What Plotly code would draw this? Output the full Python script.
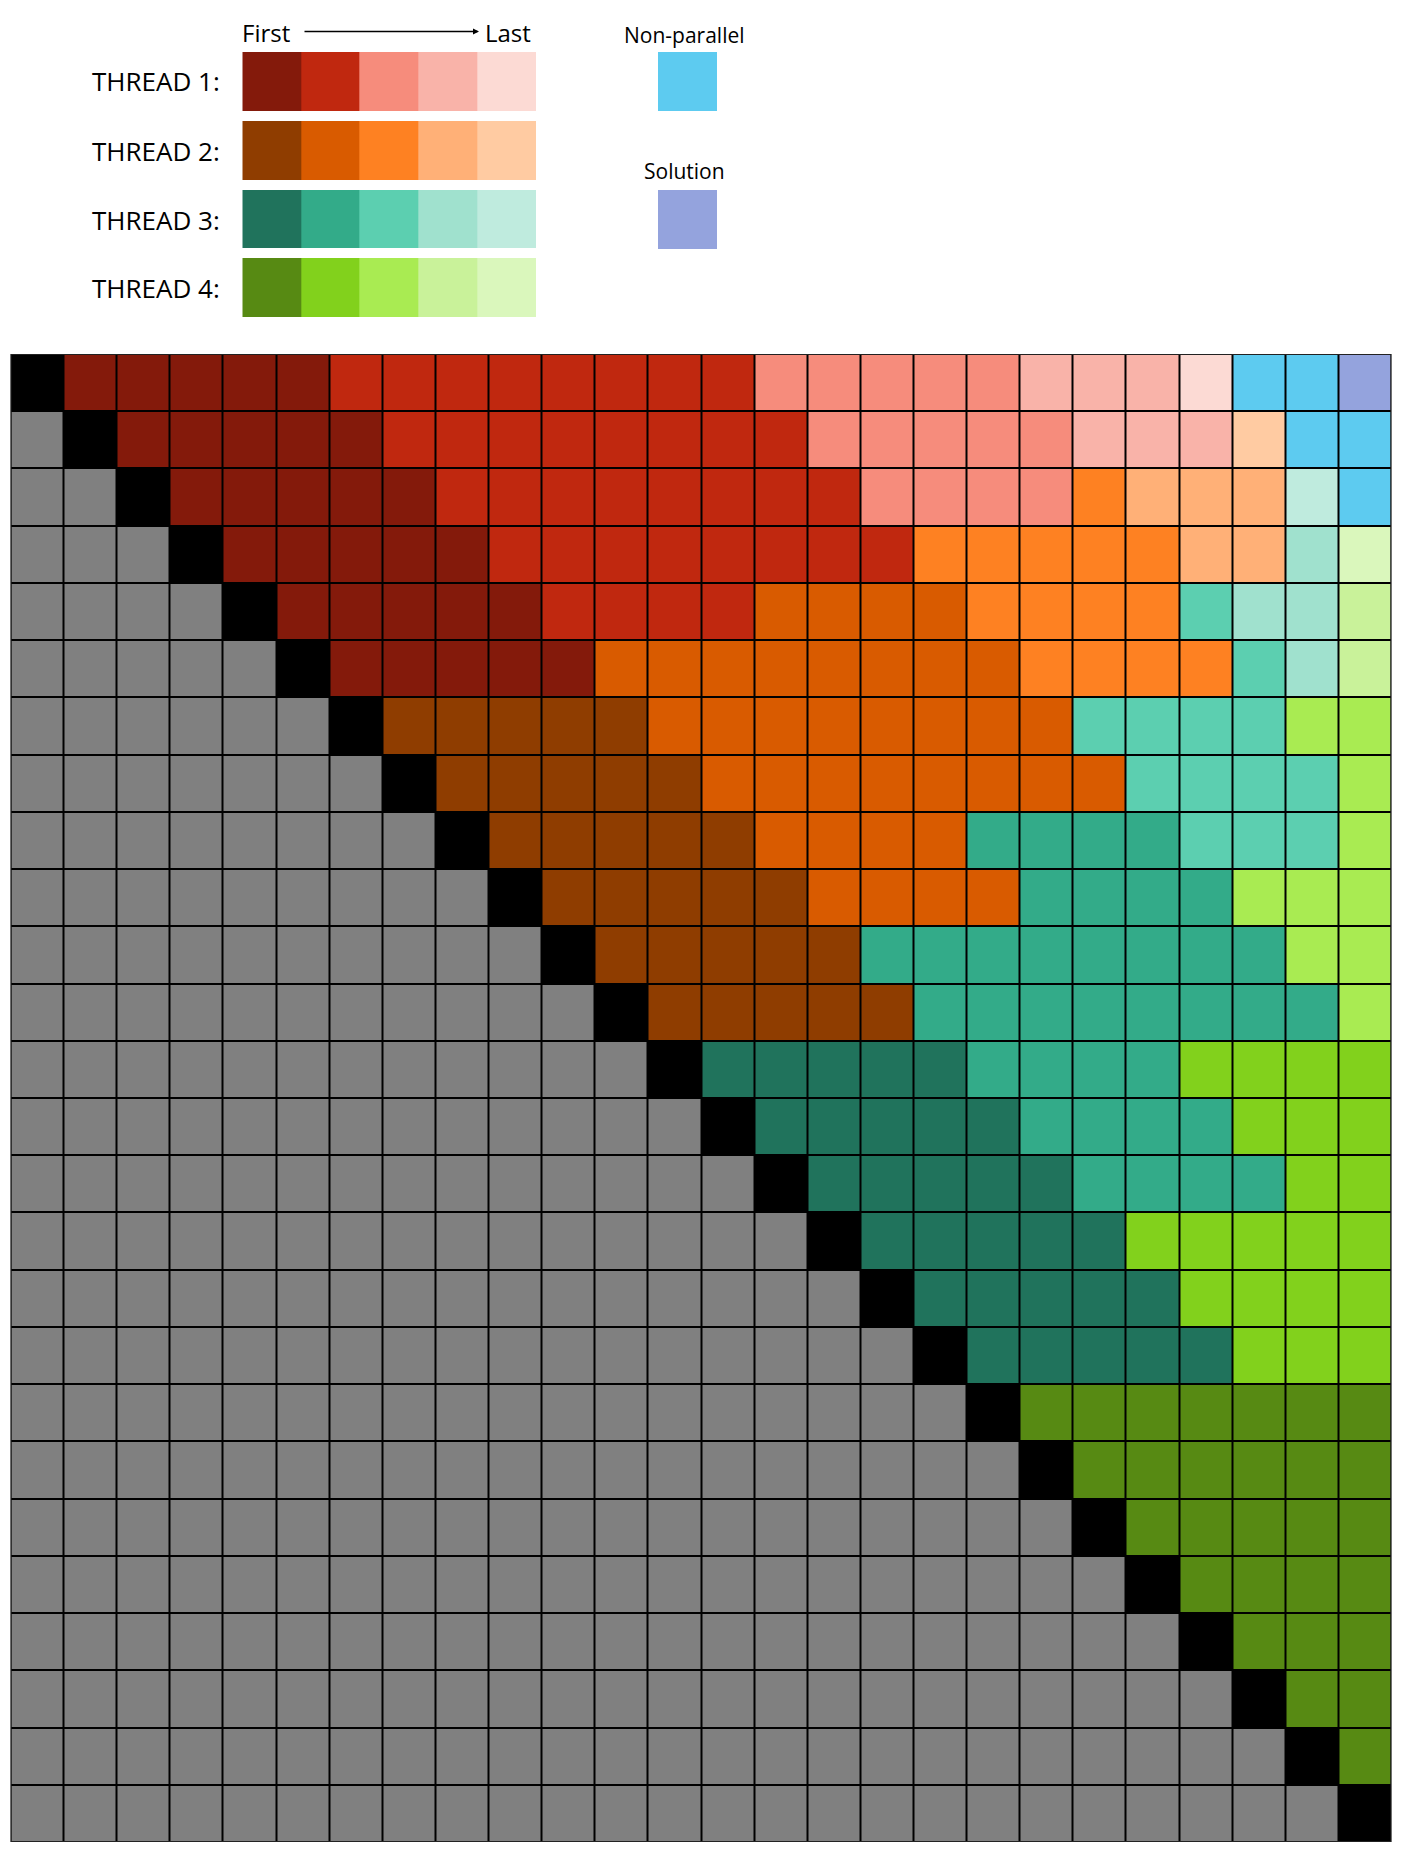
import plotly.graph_objects as go

PAGE_W, PAGE_H = 1412, 1851
OFF = 8  # default body margin of the html page
W, H = PAGE_W - OFF, PAGE_H - OFF

# ---- category colours ----
CODES = ["G", "K",
         "1a", "1b", "1c", "1d", "1e",
         "2a", "2b", "2c", "2d", "2e",
         "3a", "3b", "3c", "3d", "3e",
         "4a", "4b", "4c", "4d", "4e",
         "N", "S"]
COLORS = ["#808080", "#000000",
          "#841A0B", "#C0280F", "#F68C7C", "#F9B3A9", "#FCDAD4",
          "#8F3D00", "#D95B00", "#FE8122", "#FFB077", "#FFCBA2",
          "#20735C", "#33AB89", "#5CCFB0", "#A0E1CE", "#BFEBDE",
          "#578A13", "#82D11C", "#A9EB52", "#C9F29A", "#DAF7BC",
          "#5DCBF0", "#94A3DD"]

# ---- grid rows (run-length: code, count) ----
ROWS = [
    [("K", 1), ("1a", 5), ("1b", 8), ("1c", 5), ("1d", 3), ("1e", 1), ("N", 2), ("S", 1)],
    [("G", 1), ("K", 1), ("1a", 5), ("1b", 8), ("1c", 5), ("1d", 3), ("2e", 1), ("N", 2)],
    [("G", 2), ("K", 1), ("1a", 5), ("1b", 8), ("1c", 4), ("2c", 1), ("2d", 3), ("3e", 1), ("N", 1)],
    [("G", 3), ("K", 1), ("1a", 5), ("1b", 8), ("2c", 5), ("2d", 2), ("3d", 1), ("4e", 1)],
    [("G", 4), ("K", 1), ("1a", 5), ("1b", 4), ("2b", 4), ("2c", 4), ("3c", 1), ("3d", 2), ("4d", 1)],
    [("G", 5), ("K", 1), ("1a", 5), ("2b", 8), ("2c", 4), ("3c", 1), ("3d", 1), ("4d", 1)],
    [("G", 6), ("K", 1), ("2a", 5), ("2b", 8), ("3c", 4), ("4c", 2)],
    [("G", 7), ("K", 1), ("2a", 5), ("2b", 8), ("3c", 4), ("4c", 1)],
    [("G", 8), ("K", 1), ("2a", 5), ("2b", 4), ("3b", 4), ("3c", 3), ("4c", 1)],
    [("G", 9), ("K", 1), ("2a", 5), ("2b", 4), ("3b", 4), ("4c", 3)],
    [("G", 10), ("K", 1), ("2a", 5), ("3b", 8), ("4c", 2)],
    [("G", 11), ("K", 1), ("2a", 5), ("3b", 8), ("4c", 1)],
    [("G", 12), ("K", 1), ("3a", 5), ("3b", 4), ("4b", 4)],
    [("G", 13), ("K", 1), ("3a", 5), ("3b", 4), ("4b", 3)],
    [("G", 14), ("K", 1), ("3a", 5), ("3b", 4), ("4b", 2)],
    [("G", 15), ("K", 1), ("3a", 5), ("4b", 5)],
    [("G", 16), ("K", 1), ("3a", 5), ("4b", 4)],
    [("G", 17), ("K", 1), ("3a", 5), ("4b", 3)],
    [("G", 18), ("K", 1), ("4a", 7)],
    [("G", 19), ("K", 1), ("4a", 6)],
    [("G", 20), ("K", 1), ("4a", 5)],
    [("G", 21), ("K", 1), ("4a", 4)],
    [("G", 22), ("K", 1), ("4a", 3)],
    [("G", 23), ("K", 1), ("4a", 2)],
    [("G", 24), ("K", 1), ("4a", 1)],
    [("G", 25), ("K", 1)],
]

# ---- legend ----
THREAD_LABELS = ["THREAD 1:", "THREAD 2:", "THREAD 3:", "THREAD 4:"]
THREAD_SWATCHES = [["1a", "1b", "1c", "1d", "1e"],
                   ["2a", "2b", "2c", "2d", "2e"],
                   ["3a", "3b", "3c", "3d", "3e"],
                   ["4a", "4b", "4c", "4d", "4e"]]
ORDER_LABELS = ["First", "Last"]
EXTRA_LABELS = ["Non-parallel", "Solution"]
EXTRA_CODES = ["N", "S"]

n = len(CODES)
idx = {c: i for i, c in enumerate(CODES)}
cscale = []
for i, col in enumerate(COLORS):
    cscale.append([i / n, col])
    cscale.append([(i + 1) / n, col])


def expand(row):
    out = []
    for c, k in row:
        out += [idx[c]] * k
    return out


Z = [expand(r) for r in ROWS]
N = len(Z)


def px(x):
    return (x - OFF) / W


def py(y):
    return 1 - (y - OFF) / H


common = dict(colorscale=cscale, zmin=-0.5, zmax=n - 0.5, showscale=False, hoverinfo="skip")

fig = go.Figure()
fig.add_trace(go.Heatmap(z=Z, xgap=2, ygap=2, xaxis="x", yaxis="y", **common))
fig.add_trace(go.Heatmap(z=[[idx[c] for c in r] for r in THREAD_SWATCHES],
                         ygap=10, xaxis="x2", yaxis="y2", **common))
fig.add_trace(go.Heatmap(z=[[idx[EXTRA_CODES[0]]]], xaxis="x3", yaxis="y3", **common))
fig.add_trace(go.Heatmap(z=[[idx[EXTRA_CODES[1]]]], xaxis="x4", yaxis="y4", **common))

hid = dict(visible=False, showgrid=False, zeroline=False, fixedrange=True)
fig.update_layout(
    width=W, height=H, margin=dict(l=0, r=0, t=0, b=0),
    paper_bgcolor="white", plot_bgcolor="white",
    xaxis=dict(domain=[px(10.5), px(1391.5)], range=[-0.5, N - 0.5], **hid),
    yaxis=dict(domain=[py(1842), py(354)], range=[N - 0.5, -0.5], **hid),
    xaxis2=dict(domain=[px(242.3), px(536)], range=[-0.5, 4.5], anchor="y2", **hid),
    yaxis2=dict(domain=[py(322), py(47)], range=[3.5, -0.5], anchor="x2", **hid),
    xaxis3=dict(domain=[px(658), px(717)], range=[-0.5, 0.5], anchor="y3", **hid),
    yaxis3=dict(domain=[py(111), py(52)], range=[0.5, -0.5], anchor="x3", **hid),
    xaxis4=dict(domain=[px(658), px(717)], range=[-0.5, 0.5], anchor="y4", **hid),
    yaxis4=dict(domain=[py(249), py(190)], range=[0.5, -0.5], anchor="x4", **hid),
)

# black backing under the main grid (shows through gaps as grid lines)
fig.add_shape(type="rect", xref="x", yref="y", x0=-0.5, x1=N - 0.5, y0=-0.5, y1=N - 0.5,
              fillcolor="black", line=dict(width=0), layer="below")
fig.add_shape(type="rect", xref="x", yref="y", x0=-0.5, x1=N - 0.5, y0=-0.5, y1=N - 0.5,
              fillcolor="rgba(0,0,0,0)", line=dict(color="#222222", width=2), layer="above")

FONT = "Open Sans, Liberation Sans, sans-serif"
anns = []
row_centers = [81.5, 151, 219.5, 288]
for lab, yc in zip(THREAD_LABELS, row_centers):
    anns.append(dict(x=px(222), y=py(yc), xref="paper", yref="paper", text=lab, showarrow=False,
                     xanchor="right", yanchor="middle", font=dict(family=FONT, size=26, color="black")))
anns.append(dict(x=px(240), y=py(32), xref="paper", yref="paper", text=ORDER_LABELS[0], showarrow=False,
                 xanchor="left", yanchor="middle", font=dict(family=FONT, size=24, color="black")))
anns.append(dict(x=px(483), y=py(32), xref="paper", yref="paper", text=ORDER_LABELS[1], showarrow=False,
                 xanchor="left", yanchor="middle", font=dict(family=FONT, size=24, color="black")))
anns.append(dict(x=px(479), y=py(31.5), xref="paper", yref="paper", text="", showarrow=True,
                 ax=-176, ay=0, axref="pixel", ayref="pixel", arrowhead=2, arrowsize=0.8,
                 arrowwidth=1.5, arrowcolor="black"))
anns.append(dict(x=px(684), y=py(35), xref="paper", yref="paper", text=EXTRA_LABELS[0], showarrow=False,
                 xanchor="center", yanchor="middle", font=dict(family=FONT, size=21, color="black")))
anns.append(dict(x=px(684), y=py(171), xref="paper", yref="paper", text=EXTRA_LABELS[1], showarrow=False,
                 xanchor="center", yanchor="middle", font=dict(family=FONT, size=21, color="black")))
fig.update_layout(annotations=anns)

fig.write_html("out.html")
